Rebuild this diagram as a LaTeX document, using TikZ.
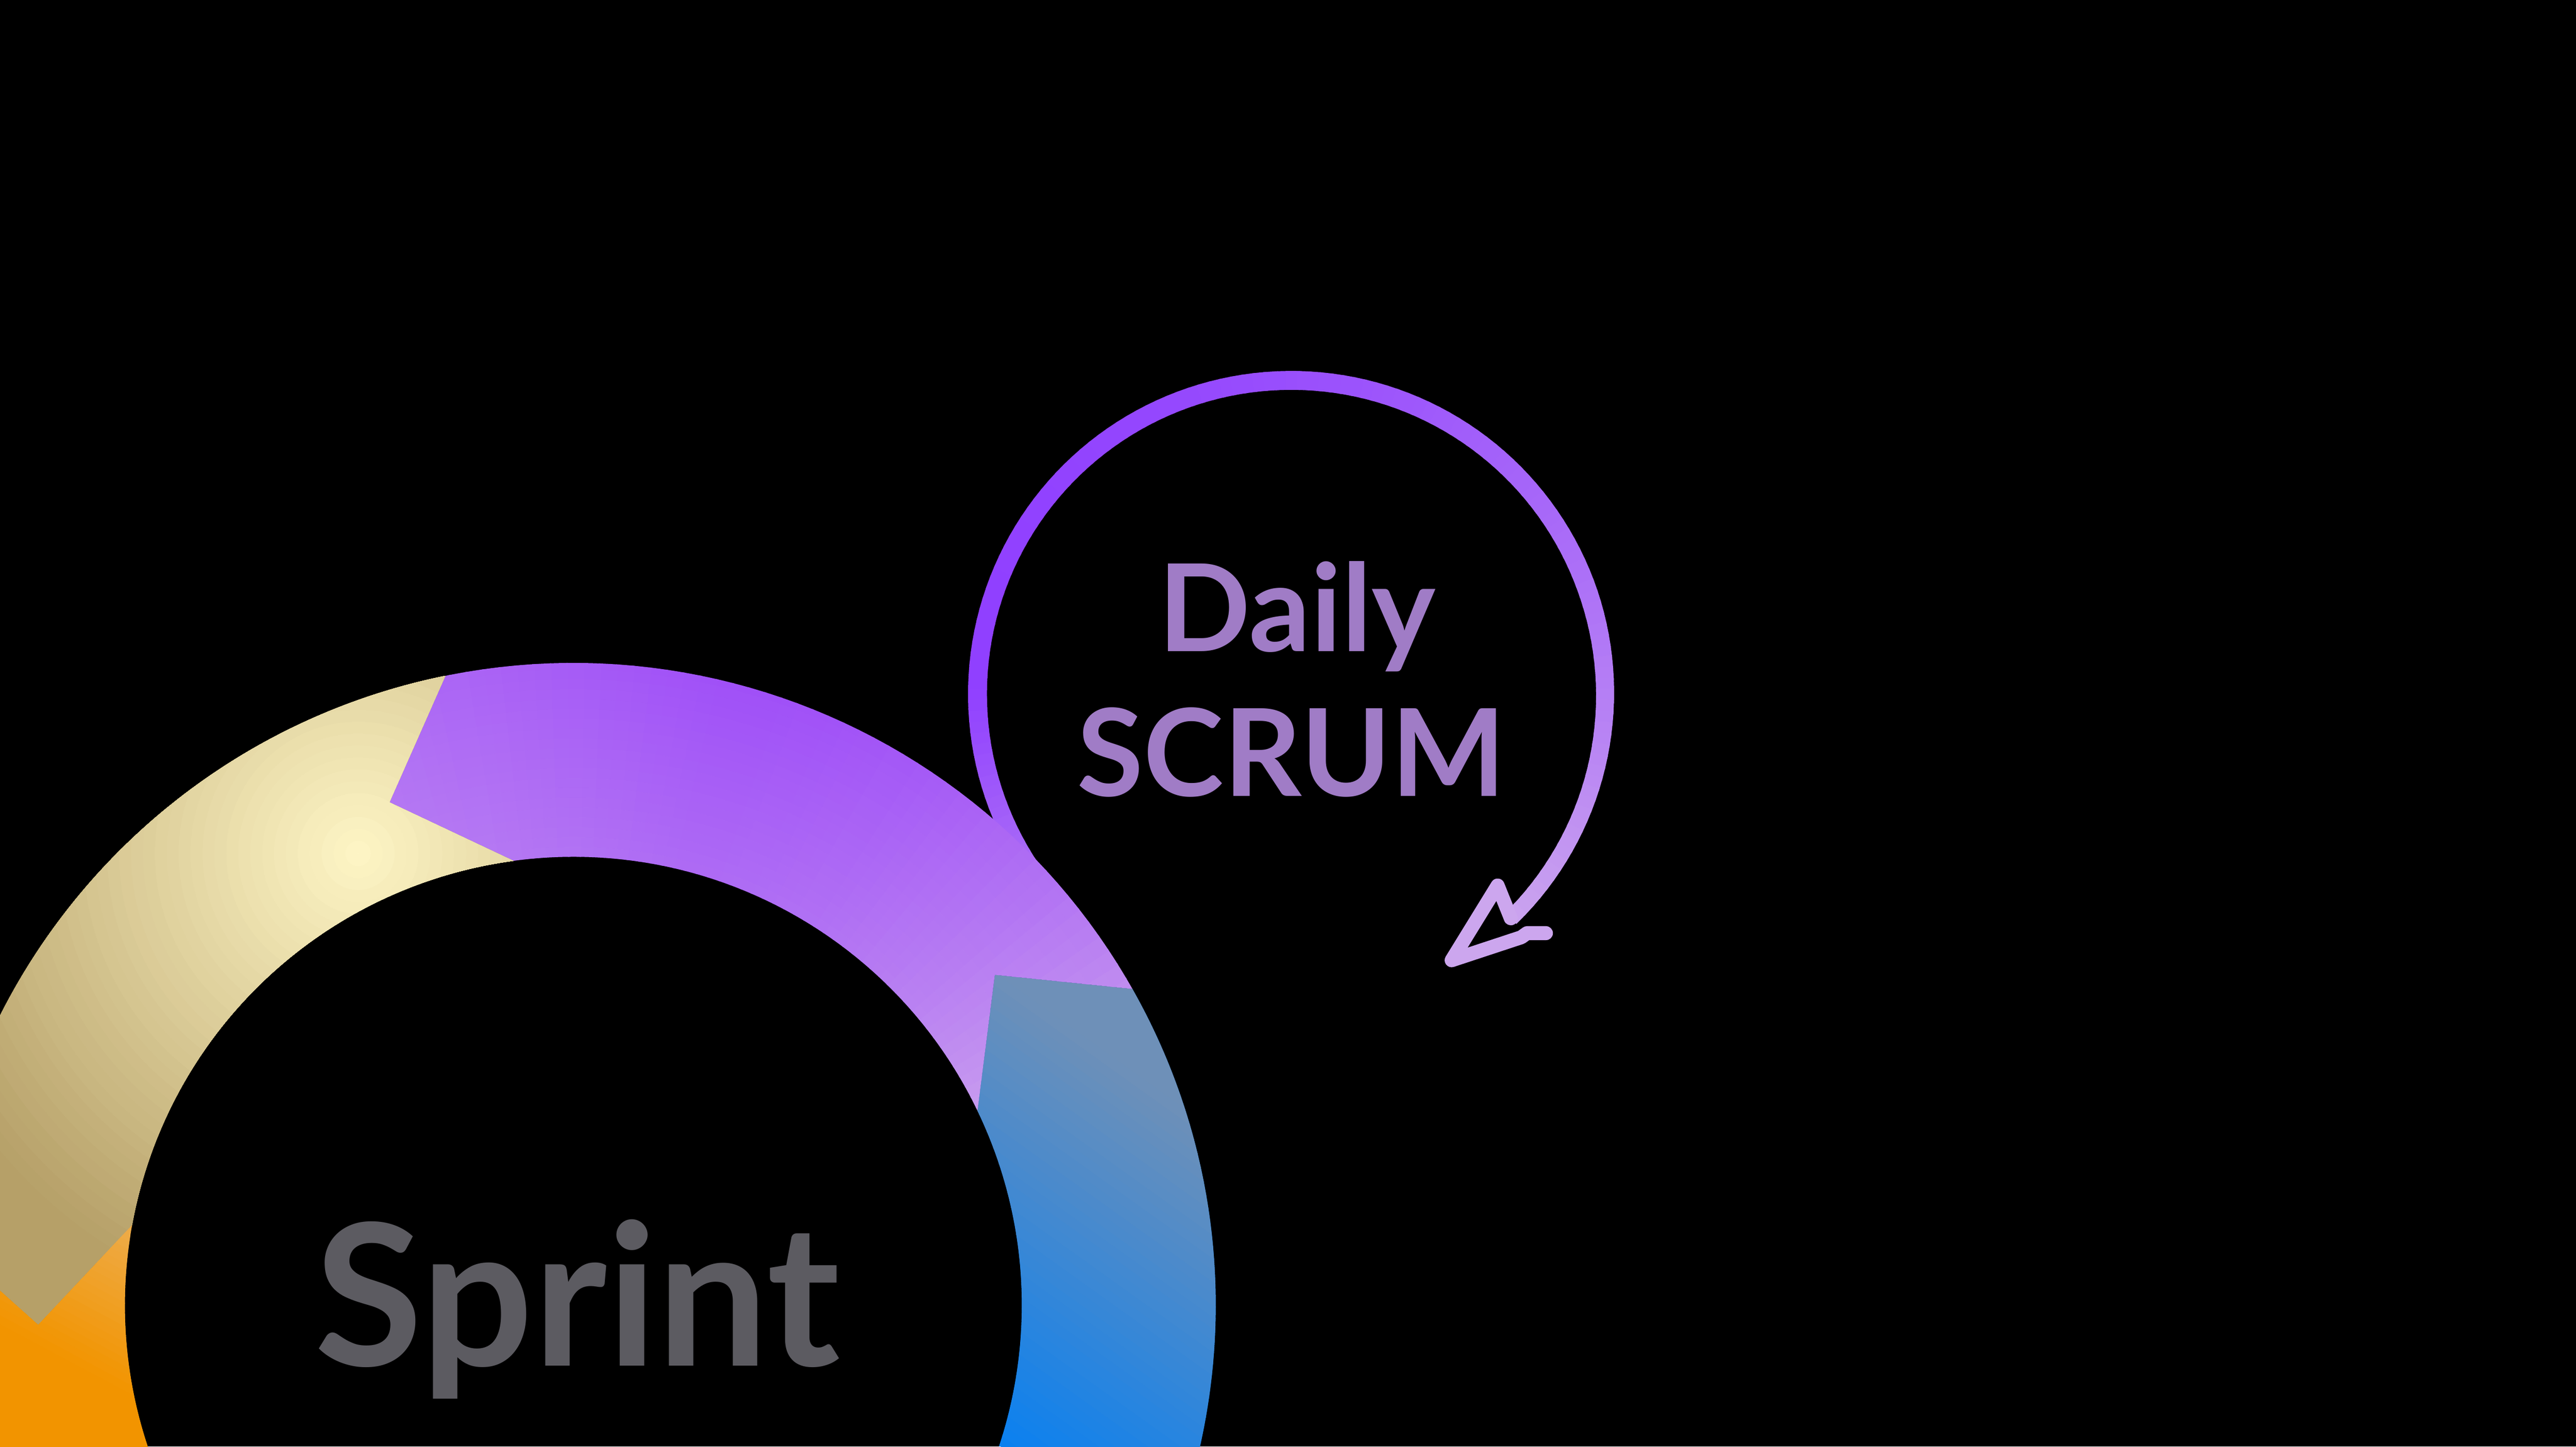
\documentclass[tikz,border=0pt]{standalone}
\usepackage{fontspec}
\setmainfont{Lato}

\definecolor{scrumStart}{HTML}{AA6CF6}
\definecolor{scrumVio}{HTML}{9040FF}
\definecolor{scrumLav}{HTML}{CCA6EE}
\definecolor{scrumText}{HTML}{A07CC6}
\definecolor{sprintText}{HTML}{5C5B61}
\definecolor{blueBright}{HTML}{0A80F0}
\definecolor{blueGrey}{HTML}{6E90B8}
\definecolor{purDark}{HTML}{A050F8}
\definecolor{purLight}{HTML}{CDA6EE}
\definecolor{yelTan}{HTML}{B6A068}
\definecolor{yelCream}{HTML}{FFF7C7}
\definecolor{oraLight}{HTML}{EEAA45}
\definecolor{oraDeep}{HTML}{F29400}

% one arrow piece of the sprint ring, tail angle #1, head angle #2
\newcommand\ringpart[2]{([shift={(#1:391)}]sprintc) arc[start angle=#1, end angle=#2, radius=391]
  -- ([shift={({#2+8.6}:326)}]sprintc) -- ([shift={({#2-3.8}:273)}]sprintc)
  arc[start angle={#2-3.8}, end angle={#1-3.8}, radius=273]
  -- ([shift={({#1+8.6}:326)}]sprintc) -- cycle}

% colour bands: start point, angle, length, from colour, to colour, steps
\newcommand\bandfill[6]{%
  \begin{scope}[shift={#1}, rotate=#2]
    \fill[#5] (#3,-2000) rectangle (2000,2000);
    \foreach \i in {1,...,#6} {
      \pgfmathtruncatemacro\p{round((\i-0.5)/#6*100)}
      \fill[#5!\p!#4] ({(\i-1)/#6*#3},-2000) rectangle ({\i/#6*#3+0.5},2000);
    }
  \end{scope}}

\begin{document}
\begin{tikzpicture}[x=0.1mm,y=0.1mm,
    scrumlabel/.style={text=scrumText, font=\fontsize{21}{25}\selectfont\bfseries, anchor=base, inner sep=0pt},
    sprintlabel/.style={text=sprintText, font=\fontsize{34.2}{40}\selectfont\bfseries, anchor=base, inner sep=0pt}]
  \useasboundingbox (0,0) rectangle (1568,880.6);
  \clip (0,0) rectangle (1568,880.6);
  \fill[black] (0,0) rectangle (1568,880.6);

  \coordinate (sprintc) at (349,86);
  \coordinate (dailyc) at (786,458);

  % daily scrum loop
  \foreach \a in {215,213,...,-43} {
    \pgfmathsetmacro\tt{max(0,180-(\a))/227}
    \pgfmathsetmacro\ts{max(0,215-(\a))/35}
    \pgfmathtruncatemacro\p{(\a)>180 ? \ts*100 : \tt*\tt*100}
    \pgfmathsetmacro\lw{(\a)>20 ? 1.15 : 0.95+0.2*((\a)+47)/67}
    \ifnum\a>180 \colorlet{arccol}{scrumVio!\p!scrumStart}\else\colorlet{arccol}{scrumLav!\p!scrumVio}\fi
    \draw[arccol, line width=\lw mm] ([shift={(\a:191)}]dailyc) arc[start angle=\a, end angle=\a-2.6, radius=191];
  }
  \coordinate (arrowjoin) at ([shift={(-45.6:191)}]dailyc);
  \coordinate (arrowpeak) at (911.6,341.5);
  \coordinate (arrowtip) at (883.6,296);
  \coordinate (arrowmid) at (926,310);
  \coordinate (arrowkink) at (929.5,312.5);
  \coordinate (arrowend) at (941,312.5);
  \draw[scrumLav, line width=0.85mm, line cap=round, line join=round]
    (arrowjoin) -- (arrowpeak) -- (arrowtip) -- (arrowmid) -- (arrowkink) -- (arrowend);

  % sprint ring
  \begin{scope}
    \clip \ringpart{-42.5}{29.5};
    \fill[blueBright] (0,0) rectangle (1568,880.6);
    \bandfill{(609,0)}{54.4}{232}{blueBright}{blueGrey}{40}
  \end{scope}
  \begin{scope}
    \clip \ringpart{29.5}{101.5};
    \foreach \a in {20,21.5,...,116} {
      \pgfmathsetmacro\tq{max(0,76-(\a))/46}
      \pgfmathsetmacro\tr{max(0,(\a)-76)/34*0.35}
      \pgfmathtruncatemacro\p{min(100,(0.68*\tq*\tq+\tr)*100)}
      \fill[purLight!\p!purDark] (sprintc) -- ([shift={(\a:420)}]sprintc) arc[start angle=\a, end angle=\a+1.7, radius=420] -- cycle;
    }
    \foreach \i in {0,...,19} {
      \pgfmathsetmacro\op{0.32*(1-(\i+0.5)/20)}
      \fill[purLight, opacity=\op, even odd rule] (sprintc) circle[radius={273+\i*6}] circle[radius={279+\i*6}];
    }
  \end{scope}
  \begin{scope}
    \clip \ringpart{101.5}{173.5};
    \fill[yelTan] (0,0) rectangle (1568,880.6);
    \foreach \i in {0,...,40} {
      \pgfmathtruncatemacro\p{\i/40*100}
      \fill[yelCream!\p!yelTan] (218,361) circle[radius={290*(1-\i/40)+0.5}];
    }
  \end{scope}
  \begin{scope}
    \clip \ringpart{173.5}{245.5};
    \fill[oraLight] (0,0) rectangle (1568,880.6);
    \bandfill{(85,126)}{241.9}{85}{oraLight}{oraDeep}{20}
  \end{scope}

  % labels
  \node[scrumlabel] (daily) at (789.5,484) {Daily};
  \node[scrumlabel] (scrum) at (786,396) {SCRUM};
  \node[sprintlabel] (sprint) at (351.5,49) {Sprint};
\end{tikzpicture}
\end{document}
